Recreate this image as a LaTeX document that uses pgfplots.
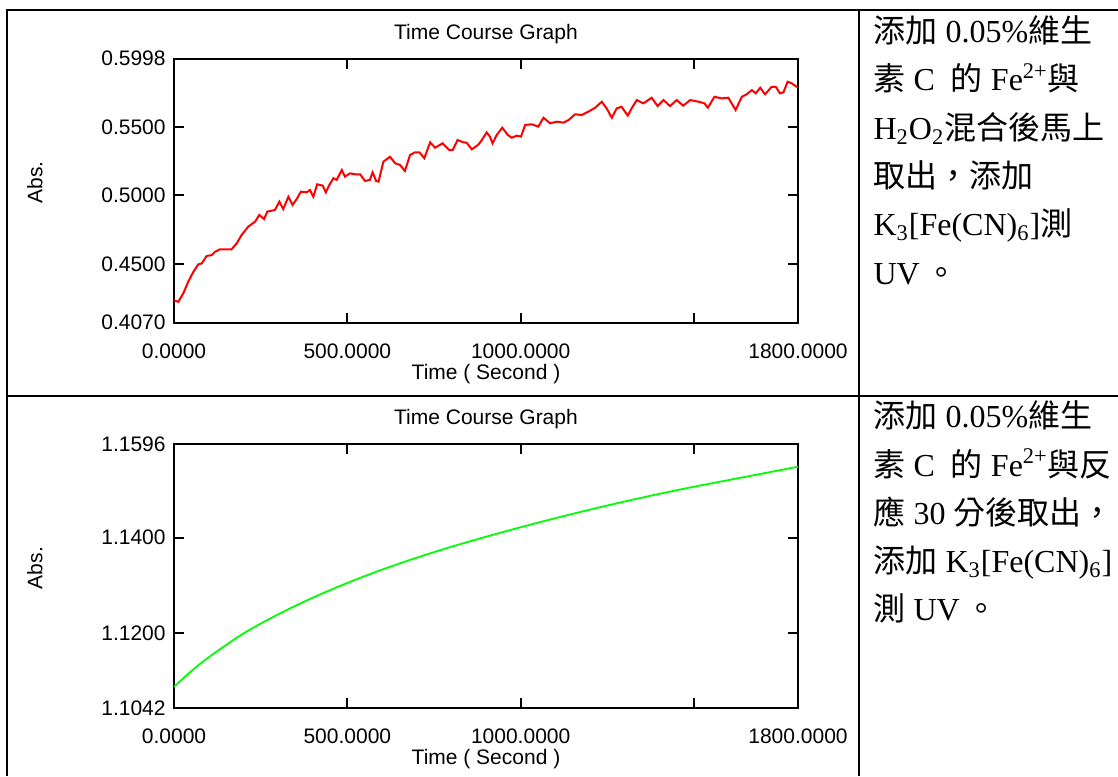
\documentclass[border=0pt]{standalone}
\usepackage{pgfplots}
\pgfplotsset{compat=1.18}
\usepackage{fontspec}
\setmainfont{Liberation Serif}
\newfontfamily\chartfont{Liberation Sans}
\newfontfamily\cjk{Noto Sans CJK TC}
\newcommand{\cf}{\chartfont\fontsize{10.5}{12}\selectfont}
\newcommand{\tf}{\fontsize{16}{19}\selectfont}

\pgfplotsset{
  tcg/.style={
    scale only axis, width=312pt, height=132pt, anchor=south west,
    xmin=0, xmax=1800,
    axis line style={line width=1pt},
    every tick/.style={black, line width=1pt},
    major tick length=5pt,
    tick align=inside,
    scaled ticks=false,
    xtick={0,500,1000,1800},
    extra x ticks={1500}, extra x tick labels={},
    /pgf/number format/assume math mode=true,
    xticklabel style={font=\cf, inner sep=0pt, anchor=north, yshift=-10.3pt,
      /pgf/number format/fixed, /pgf/number format/fixed zerofill,
      /pgf/number format/precision=4, /pgf/number format/1000 sep={}},
    yticklabel style={font=\cf, inner sep=0pt, anchor=east, xshift=-4pt,
      /pgf/number format/fixed, /pgf/number format/fixed zerofill,
      /pgf/number format/precision=4},
    title={Time Course Graph},
    every axis title shift=0pt,
    title style={font=\cf, at={(axis description cs:0.5,1.094)}, anchor=center},
    xlabel={Time ( Second )},
    xlabel style={font=\cf, at={(axis description cs:0.5,-0.194)}, anchor=center},
    ylabel={Abs.},
    ylabel style={font=\cf, at={(axis description cs:-0.2228,0.531)}, anchor=center},
  }
}

\begin{document}
\begin{tikzpicture}
\path[use as bounding box] (0pt,0pt) rectangle (559pt,-388pt);
% table rules
\draw[line width=1pt] (3.4pt,-388pt) -- (3.4pt,-5pt) -- (559pt,-5pt);
\draw[line width=1pt] (3.4pt,-197.85pt) -- (559pt,-197.85pt);
\draw[line width=1pt] (429.5pt,-5pt) -- (429.5pt,-388pt);

\begin{axis}[tcg, at={(87pt,-161.35pt)},
  ymin=0.4070, ymax=0.5998,
  ytick={0.4070,0.45,0.5,0.55,0.5998}]
\addplot[red, line width=1pt, mark=none] coordinates {
(0,0.4236) (3,0.4230) (12.5,0.4223) (27,0.4285) (41,0.4369) (56,0.4442) (70,0.4496)
(80,0.4503) (94,0.4557) (109,0.4564) (118,0.4588) (133,0.4606) (166,0.4606)
(181,0.4650) (195,0.4710) (214,0.4771) (234,0.4808) (246,0.4857) (260,0.4827)
(269,0.4881) (291,0.4893) (304,0.4954) (315,0.4900) (330,0.4990) (342,0.4930)
(354,0.4973) (366,0.5027) (383,0.5022) (392,0.5039) (402,0.4990) (413,0.5081)
(429,0.5071) (438,0.5022) (448,0.5076) (460,0.5125) (469,0.5113) (484,0.5185)
(493,0.5137) (508,0.5161) (522,0.5154) (537,0.5154) (551,0.5105) (565,0.5113)
(573,0.5168) (583,0.5105) (590,0.5100) (604,0.5246) (623,0.5282) (638,0.5234)
(652,0.5222) (666,0.5178) (681,0.5295) (695,0.5314) (708,0.5314) (722,0.5271)
(739,0.5387) (753,0.5348) (775,0.5380) (794,0.5331) (804,0.5331) (818,0.5404)
(835,0.5387) (844,0.5385) (859,0.5336) (878,0.5370) (888,0.5404) (902,0.5460)
(911,0.5430) (919,0.5380) (931,0.5441) (947,0.5494) (963,0.5441) (974,0.5421)
(989,0.5436) (1001,0.5429) (1013,0.5514) (1032,0.5519) (1051,0.5502)
(1066,0.5567) (1085,0.5526) (1104,0.5538) (1123,0.5531) (1138,0.5550)
(1157,0.5592) (1176,0.5587) (1195,0.5611) (1215,0.5640) (1234,0.5684)
(1248,0.5635) (1263,0.5567) (1277,0.5635) (1291,0.5647) (1309,0.5582)
(1320,0.5635) (1335,0.5696) (1354,0.5672) (1378,0.5713) (1395,0.5652)
(1412,0.5696) (1431,0.5652) (1450,0.5696) (1469,0.5655) (1489,0.5696)
(1513,0.5684) (1530,0.5672) (1540,0.5640) (1559,0.5720) (1580,0.5708)
(1599,0.5713) (1620,0.5623) (1638,0.5720) (1652,0.5738) (1667,0.5769)
(1678,0.5745) (1691,0.5786) (1705,0.5738) (1724,0.5793) (1736,0.5793)
(1748,0.5745) (1758,0.5752) (1770,0.5830) (1782,0.5818) (1800,0.5786)
};
\end{axis}

\begin{axis}[tcg, at={(87pt,-354.15pt)},
  ymin=1.1042, ymax=1.1596,
  ytick={1.1042,1.12,1.14,1.1596}]
\addplot[green, line width=0.9pt, mark=none, smooth] coordinates {
(0,1.1087) (50,1.1120) (100,1.1149) (200,1.1199) (300,1.1239) (400,1.1274)
(500,1.1305) (600,1.1333) (700,1.1358) (800,1.1381) (900,1.1402) (1000,1.1422)
(1100,1.1441) (1200,1.1459) (1300,1.1476) (1400,1.1492) (1500,1.1507)
(1600,1.1521) (1700,1.1535) (1800,1.1549)
};
\end{axis}

% right-hand notes, upper row
\begin{scope}[every node/.style={anchor=base west, inner sep=0pt, font=\tf}]
\node at (436.6pt,-21.25pt) {{\cjk 添加} 0.05\%{\cjk 維生}};
\node at (436.6pt,-45.4pt) {{\cjk 素} C\ \ {\cjk 的} Fe\textsuperscript{2+}{\cjk 與}};
\node at (436.6pt,-69.55pt) {H\textsubscript{2}O\textsubscript{2}{\cjk 混合後馬上}};
\node at (436.6pt,-93.7pt) {{\cjk 取出，添加}};
\node at (436.6pt,-117.85pt) {K\textsubscript{3}[Fe(CN)\textsubscript{6}]{\cjk 測}};
\node at (436.6pt,-142.0pt) {UV\,{\cjk 。}};
% lower row
\node at (436.6pt,-213.85pt) {{\cjk 添加} 0.05\%{\cjk 維生}};
\node at (436.6pt,-238.0pt) {{\cjk 素} C\ \ {\cjk 的} Fe\textsuperscript{2+}{\cjk 與反}};
\node at (436.6pt,-262.15pt) {{\cjk 應} 30 {\cjk 分後取出，}};
\node at (436.6pt,-286.3pt) {{\cjk 添加} K\textsubscript{3}[Fe(CN)\textsubscript{6}]};
\node at (436.6pt,-310.45pt) {{\cjk 測} UV\,{\cjk 。}};
\end{scope}
\end{tikzpicture}
\end{document}
